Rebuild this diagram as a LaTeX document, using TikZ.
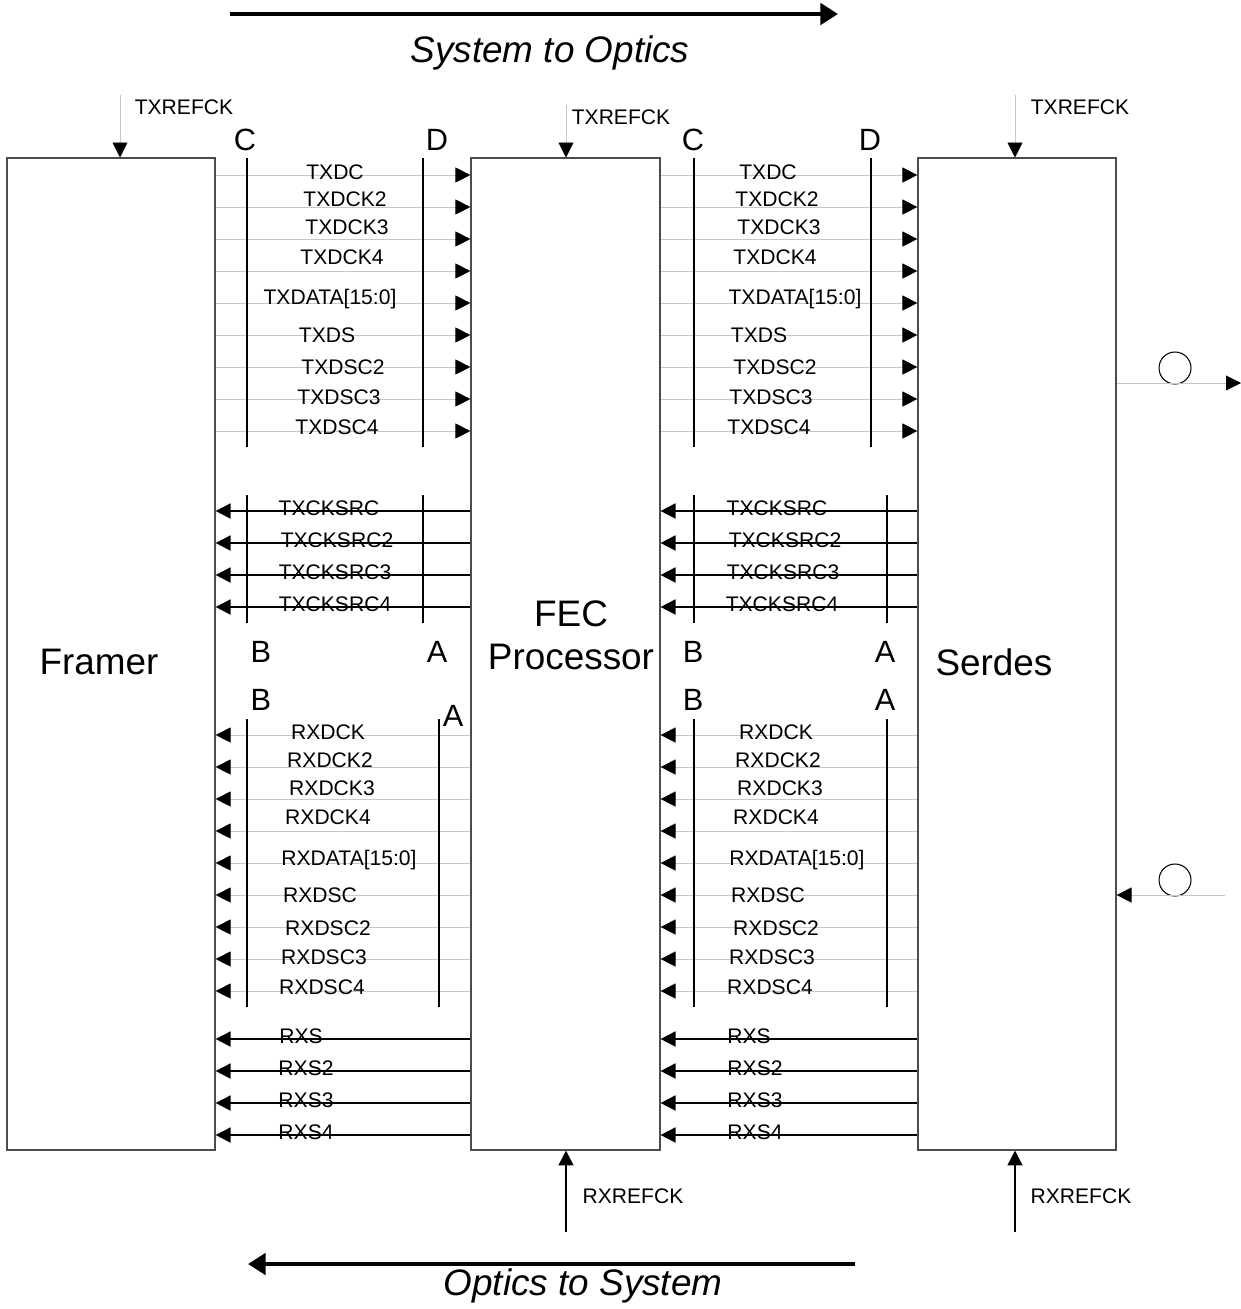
\documentclass[tikz,border=0pt]{standalone}
\usepackage{fontspec}
\setmainfont{Liberation Sans}
\usetikzlibrary{arrows.meta}

\begin{document}
\begin{tikzpicture}[
    x=0.02cm, y=-0.02cm,
    >={Triangle[length=8.5pt,width=8.5pt]},
    blk/.style={draw=black!70,line width=0.7pt,minimum height=19.84cm,inner sep=0pt},
    big/.style={font=\fontsize{21}{24.4}\selectfont,inner sep=0pt,align=center},
    pin/.style={font=\fontsize{17.5}{20}\selectfont,inner sep=0pt},
    sig/.style={font=\fontsize{12}{14}\selectfont,inner sep=0pt},
    wire/.style={draw=black!22,line width=0.5pt,-{Triangle[length=8.5pt,width=8.5pt,color=black]}},
    strong/.style={line width=1.1pt,->},
    bus/.style={line width=1pt},
    flow/.style={line width=2.8pt,-{Triangle[length=10pt,width=12pt]}},
    ring/.style={circle,draw,line width=0.6pt,minimum size=0.64cm,inner sep=0pt}]
  \useasboundingbox (0,0) rectangle (1241,1309);

  % the three blocks
  \node[blk,minimum width=4.16cm] (framer) at (111,654) {};
  \node[blk,minimum width=3.78cm] (fec) at (565.5,654) {};
  \node[blk,minimum width=3.96cm] (serdes) at (1017,654) {};
  \node[big] (framertxt) at (99,662) {Framer};
  \node[big] (fectxt) at (571,635) {FEC\\Processor};
  \node[big] (serdestxt) at (994,662) {Serdes};

  % direction of flow
  \coordinate (sysL) at (230,14);
  \coordinate (sysR) at (838,14);
  \draw[flow] (sysL) -- (sysR);
  \node[big,font=\fontsize{21}{24}\selectfont\itshape] (sysopt) at (550,53) {System to Optics};
  \coordinate (optR) at (855,1264);
  \coordinate (optL) at (248,1264);
  \draw[flow] (optR) -- (optL);
  \node[big,font=\fontsize{21}{24}\selectfont\itshape] (optsys) at (583,1286) {Optics to System};

  % reference clocks
  \coordinate (txrefA) at (120,95);
  \coordinate (txrefB) at (566,105);
  \coordinate (txrefC) at (1015,95);
  \draw[wire] (txrefA) -- (framer.north -| txrefA);
  \draw[wire] (txrefB) -- (fec.north -| txrefB);
  \draw[wire] (txrefC) -- (serdes.north -| txrefC);
  \node[sig] (txrefAtxt) at (184,107) {TXREFCK};
  \node[sig] (txrefBtxt) at (621,117) {TXREFCK};
  \node[sig] (txrefCtxt) at (1080,107) {TXREFCK};
  \coordinate (rxrefB) at (566,1232);
  \coordinate (rxrefC) at (1015,1232);
  \draw[line width=1pt,->] (rxrefB) -- (fec.south -| rxrefB);
  \draw[line width=1pt,->] (rxrefC) -- (serdes.south -| rxrefC);
  \node[sig] (rxrefBtxt) at (633,1196) {RXREFCK};
  \node[sig] (rxrefCtxt) at (1081,1196) {RXREFCK};

  % transmit data, framer -> fec -> serdes
  \foreach \y in {175,207,...,431} {
    \draw[wire] (framer.east |- 0,\y) -- (fec.west |- 0,\y);
    \draw[wire] (fec.east |- 0,\y) -- (serdes.west |- 0,\y);
  }
  \foreach \x/\y/\t [count=\i] in {335/172/TXDC, 345/199/TXDCK2, 347/227/TXDCK3,
      342/257/TXDCK4, 330/299/{TXDATA[15:0]}, 327/335/TXDS, 343/367/TXDSC2,
      339/397/TXDSC3, 337/427/TXDSC4}
    \node[sig] (txa\i) at (\x,\y) {\t};
  \foreach \x/\y/\t [count=\i] in {768/172/TXDC, 777/199/TXDCK2, 779/227/TXDCK3,
      775/257/TXDCK4, 795/299/{TXDATA[15:0]}, 759/335/TXDS, 775/367/TXDSC2,
      771/397/TXDSC3, 769/427/TXDSC4}
    \node[sig] (txb\i) at (\x,\y) {\t};
  \draw[bus] (247,158) -- (247,447) (423,158) -- (423,447);
  \draw[bus] (694,158) -- (694,447) (871,158) -- (871,447);

  % transmit clock sources, back towards the framer
  \foreach \y in {511,543,575,607} {
    \draw[strong] (fec.west |- 0,\y) -- (framer.east |- 0,\y);
    \draw[strong] (serdes.west |- 0,\y) -- (fec.east |- 0,\y);
  }
  \foreach \x/\y/\t [count=\i] in {329/508/TXCKSRC, 337/540/TXCKSRC2,
      335/572/TXCKSRC3, 335/604/TXCKSRC4}
    \node[sig] (cka\i) at (\x,\y) {\t};
  \foreach \x/\y/\t [count=\i] in {777/508/TXCKSRC, 785/540/TXCKSRC2,
      783/572/TXCKSRC3, 782/604/TXCKSRC4}
    \node[sig] (ckb\i) at (\x,\y) {\t};
  \draw[bus] (247,495) -- (247,623) (423,495) -- (423,623);
  \draw[bus] (694,495) -- (694,623) (887,495) -- (887,623);

  % receive data, serdes -> fec -> framer
  \foreach \y in {735,767,...,991} {
    \draw[wire] (fec.west |- 0,\y) -- (framer.east |- 0,\y);
    \draw[wire] (serdes.west |- 0,\y) -- (fec.east |- 0,\y);
  }
  \foreach \x/\y/\t [count=\i] in {328/732/RXDCK, 330/760/RXDCK2, 332/788/RXDCK3,
      328/817/RXDCK4, 349/860/{RXDATA[15:0]}, 320/895/RXDSC, 328/928/RXDSC2,
      324/957/RXDSC3, 322/987/RXDSC4}
    \node[sig] (rxa\i) at (\x,\y) {\t};
  \foreach \x/\y/\t [count=\i] in {776/732/RXDCK, 778/760/RXDCK2, 780/788/RXDCK3,
      776/817/RXDCK4, 797/860/{RXDATA[15:0]}, 768/895/RXDSC, 776/928/RXDSC2,
      772/957/RXDSC3, 770/987/RXDSC4}
    \node[sig] (rxb\i) at (\x,\y) {\t};
  \draw[bus] (247,719) -- (247,1007) (439,719) -- (439,1007);
  \draw[bus] (694,719) -- (694,1007) (887,719) -- (887,1007);

  % receive status
  \foreach \y in {1039,1071,1103,1135} {
    \draw[strong] (fec.west |- 0,\y) -- (framer.east |- 0,\y);
    \draw[strong] (serdes.west |- 0,\y) -- (fec.east |- 0,\y);
  }
  \foreach \x/\y/\t [count=\i] in {301/1036/RXS, 306/1068/RXS2, 306/1100/RXS3, 306/1132/RXS4}
    \node[sig] (rsa\i) at (\x,\y) {\t};
  \foreach \x/\y/\t [count=\i] in {749/1036/RXS, 755/1068/RXS2, 755/1100/RXS3, 755/1132/RXS4}
    \node[sig] (rsb\i) at (\x,\y) {\t};

  % bus letters
  \node[pin] (ca) at (245,140) {C};
  \node[pin] (da) at (437,140) {D};
  \node[pin] (cb) at (693,140) {C};
  \node[pin] (db) at (870,140) {D};
  \node[pin] (ba) at (261,652) {B};
  \node[pin] (aa) at (437,652) {A};
  \node[pin] (ba2) at (261,700) {B};
  \node[pin] (aa2) at (453,716) {A};
  \node[pin] (bb) at (693,652) {B};
  \node[pin] (ab) at (885,652) {A};
  \node[pin] (bb2) at (693,700) {B};
  \node[pin] (ab2) at (885,700) {A};

  % optical side
  \node[ring] (txring) at (1175,368) {};
  \node[ring] (rxring) at (1175,880) {};
  \coordinate (txout) at (1241,383);
  \coordinate (rxin) at (1225,895);
  \draw[wire] (serdes.east |- txout) -- (txout);
  \draw[wire] (rxin) -- (serdes.east |- rxin);
\end{tikzpicture}
\end{document}
